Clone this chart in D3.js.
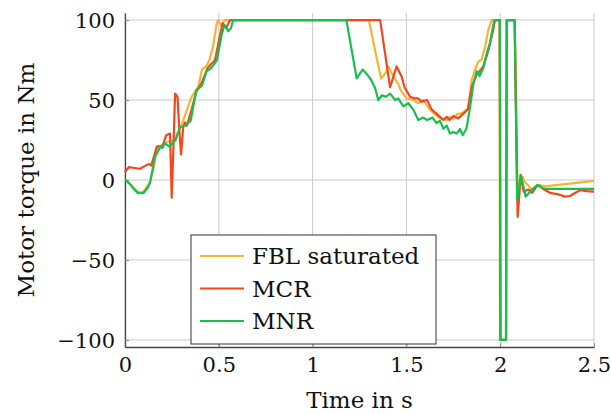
<!doctype html>
<html lang="en">
<head>
    <title>Motor torque</title>
    <script src="https://d3js.org/d3.v7.min.js"></script>
    <style>
        body { margin: 0; background: #fff; }
    </style>
</head>
<body>
    <script>
        // series (time in s, torque in Nm)
        var tFBL = [0, 0.03, 0.06, 0.08, 0.1, 0.13, 0.15, 0.17, 0.2, 0.23, 0.26, 0.29, 0.31, 0.33, 0.355, 0.39, 0.41, 0.432, 0.45, 0.47, 0.489, 0.497, 0.515, 0.53,
            1.30, 1.34, 1.365, 1.39, 1.404, 1.43, 1.457, 1.47, 1.5, 1.537, 1.563, 1.59, 1.626, 1.652, 1.68, 1.716, 1.732, 1.75, 1.768, 1.8, 1.83, 1.848, 1.866, 1.883, 1.9, 1.919, 1.937, 1.955,
            1.996, 1.999, 2.031, 2.035, 2.077, 2.093, 2.108, 2.118, 2.13, 2.168, 2.2, 2.24, 2.5];
        var vFBL = [0.4, -3, -6.5, -8, -7, -2, 6, 20, 22, 24, 25, 31, 37, 44, 52, 58, 69, 71, 75, 84, 98, 100, 96, 100,
            100, 77, 63.5, 67, 71, 65, 60, 56, 51, 50, 48, 50, 44, 41, 38.5, 37.5, 39.5, 38, 41, 42, 45, 62.5, 69, 74, 75, 83, 94, 100,
            100, -100, -100, 100, 100, -14, 3, 2, -1, -6, -3, -4, -0.5];

        var tMCR = [0, 0.02, 0.05, 0.08, 0.11, 0.13, 0.14, 0.17, 0.2, 0.22, 0.24, 0.249, 0.258, 0.267, 0.28, 0.29, 0.299, 0.31, 0.32, 0.33, 0.355, 0.38, 0.41, 0.44, 0.48, 0.506, 0.52, 0.54, 0.56,
            1.36, 1.413, 1.448, 1.475, 1.49, 1.52, 1.545, 1.563, 1.58, 1.61, 1.635, 1.66, 1.697, 1.715, 1.73, 1.75, 1.777, 1.8, 1.827, 1.848, 1.875, 1.89, 1.91, 1.937, 1.963, 1.972,
            1.998, 2.001, 2.031, 2.035, 2.077, 2.093, 2.11, 2.125, 2.15, 2.17, 2.2, 2.23, 2.265, 2.31, 2.345, 2.372, 2.4, 2.43, 2.46, 2.5];
        var vMCR = [5, 8, 7.5, 7, 9, 10, 9, 21, 21, 28, 29, -11, 20, 54, 52, 30, 16, 33, 36, 34, 44, 55, 61, 70, 75, 90, 98, 95, 100,
            100, 58, 71, 64.5, 58, 52, 51, 51, 49, 50, 44, 41.5, 37.5, 39.5, 37.5, 40, 38.5, 41, 44, 58, 66, 68, 71, 81, 94, 100,
            100, -100, -100, 100, 100, -23, 3, -7.3, -6, -8, -3, -5.6, -8, -9, -10.4, -10, -8, -6.3, -7, -7.3];

        var tMNR = [0, 0.03, 0.05, 0.07, 0.1, 0.12, 0.133, 0.16, 0.19, 0.2, 0.21, 0.236, 0.27, 0.293, 0.32, 0.35, 0.38, 0.41, 0.435, 0.46, 0.49, 0.515, 0.53, 0.55, 0.565, 0.577,
            1.18, 1.235, 1.267, 1.29, 1.31, 1.333, 1.35, 1.37, 1.39, 1.413, 1.44, 1.456, 1.484, 1.51, 1.537, 1.563, 1.59, 1.61, 1.64, 1.66, 1.68, 1.697, 1.715, 1.732, 1.75, 1.768, 1.786, 1.8, 1.82,
            1.84, 1.857, 1.875, 1.89, 1.91, 1.928, 1.946, 1.963, 1.97, 1.998, 2.002, 2.031, 2.035, 2.077, 2.09, 2.11, 2.136, 2.17, 2.2, 2.23, 2.5];
        var vMNR = [0.4, -3, -6, -8.3, -8, -5, -2, 14.6, 21, 20, 23, 21, 25, 33, 34, 37, 56, 59, 68, 70, 75, 90.6, 97, 93, 95, 100,
            100, 63.5, 69, 66, 63, 57.5, 50, 53, 52, 54, 50, 51, 46, 48, 44, 37.5, 39, 37.5, 39, 35.6, 37, 32, 34, 29, 30, 29, 32, 28, 32,
            46, 60, 68, 65, 70, 79, 86, 97, 100, 100, -100, -100, 100, 100, -12.5, 3, -10.4, -6, -3, -5.6, -5.5];

        var names = ["FBL saturated", "MCR", "MNR"];
        var colors = ["#f6b335", "#f4461f", "#17bf4f"];
        var xTicks = [0, 0.5, 1, 1.5, 2, 2.5];
        var yTicks = [-100, -50, 0, 50, 100];

        var series = [
            { t: tFBL, v: vFBL },
            { t: tMCR, v: vMCR },
            { t: tMNR, v: vMNR }
        ];

        var width = 611,
            height = 414,
            pLeft = 125, pRight = 594, pTop = 13, pBottom = 347;
        var serif = "'DejaVu Serif', 'Times New Roman', 'Liberation Serif', serif";
        var fs = "23px", tickFs = "21px";

        var x = d3.scaleLinear().domain([0, 2.5]).range([pLeft, pRight]);
        var y = d3.scaleLinear().domain([-104.4, 104.4]).range([pBottom, pTop]);

        var svg = d3.select("body").append("svg")
            .attr("width", width)
            .attr("height", height)
            .style("font-family", serif);

        // grid
        svg.append("g").selectAll("line").data(xTicks).enter().append("line")
            .attr("x1", d => x(d)).attr("x2", d => x(d))
            .attr("y1", pTop).attr("y2", pBottom)
            .attr("stroke", "#c9c9c9").attr("stroke-width", 1);
        svg.append("g").selectAll("line").data(yTicks).enter().append("line")
            .attr("x1", pLeft).attr("x2", pRight)
            .attr("y1", d => y(d)).attr("y2", d => y(d))
            .attr("stroke", "#c9c9c9").attr("stroke-width", 1);

        // axes, ticks point inward
        var fmt = d => d < 0 ? "\u2212" + Math.abs(d) : String(d);
        var xAxis = svg.append("g")
            .attr("transform", "translate(0," + pBottom + ")")
            .call(d3.axisBottom(x).tickValues(xTicks).tickSizeInner(-4).tickSizeOuter(0).tickPadding(10).tickFormat(fmt));
        var yAxis = svg.append("g")
            .attr("transform", "translate(" + pLeft + ",0)")
            .call(d3.axisLeft(y).tickValues(yTicks).tickSizeInner(-4).tickSizeOuter(0).tickPadding(10).tickFormat(fmt));

        [xAxis, yAxis].forEach(function (a) {
            a.attr("font-family", null).attr("font-size", null);
            a.select(".domain").attr("stroke", "#444").attr("stroke-width", 1.3);
            a.selectAll(".tick line").attr("stroke", "#888");
            a.selectAll("text").style("font-family", serif).style("font-size", tickFs).attr("fill", "#111");
        });
        xAxis.selectAll("text").attr("dy", "0.71em");
        yAxis.selectAll("text").attr("dy", "0.36em");

        // lines
        var line = d3.line()
            .x(d => x(d[0]))
            .y(d => y(d[1]));

        series.forEach(function (s, i) {
            svg.append("path")
                .datum(d3.zip(s.t, s.v))
                .attr("fill", "none")
                .attr("stroke", colors[i])
                .attr("stroke-width", 2.2)
                .attr("stroke-linejoin", "round")
                .attr("d", line);
        });

        // axis titles
        svg.append("text")
            .attr("x", (pLeft + pRight) / 2).attr("y", 408)
            .attr("text-anchor", "middle")
            .style("font-family", serif).style("font-size", fs).attr("fill", "#111")
            .text("Time in s");
        svg.append("text")
            .attr("transform", "translate(34," + (pTop + pBottom) / 2 + ") rotate(-90)")
            .attr("text-anchor", "middle")
            .style("font-family", serif).style("font-size", fs).attr("fill", "#111")
            .text("Motor torque in Nm");

        // legend
        var lg = svg.append("g").attr("transform", "translate(191,235)");
        lg.append("rect")
            .attr("width", 245).attr("height", 109)
            .attr("fill", "#fff").attr("stroke", "#333").attr("stroke-width", 1);
        var items = lg.selectAll("g.item").data(names).enter().append("g")
            .attr("transform", (d, i) => "translate(0," + (21 + i * 32.5) + ")");
        items.append("line")
            .attr("x1", 9).attr("x2", 53)
            .attr("stroke", (d, i) => colors[i]).attr("stroke-width", 2);
        items.append("text")
            .attr("x", 61).attr("dy", "0.35em")
            .style("font-family", serif).style("font-size", fs).attr("fill", "#111")
            .text(d => d);
    </script>
</body>
</html>
